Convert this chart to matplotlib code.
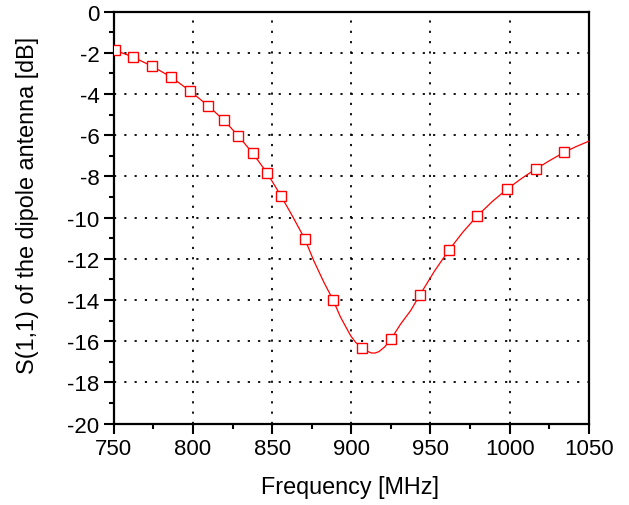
import numpy as np
import matplotlib
matplotlib.use('Agg')
import matplotlib.pyplot as plt
from matplotlib.ticker import MultipleLocator

plt.rcParams['font.family'] = ['Liberation Sans', 'DejaVu Sans']
plt.rcParams['axes.unicode_minus'] = False

# ---------------------- data

# measured points (square markers)
freq_pts = [750.6, 762.0, 774.2, 786.3, 798.3, 809.7, 819.4, 828.5, 837.7, 846.8,
            855.7, 870.6, 888.4, 907.0, 925.0, 943.4, 961.6, 979.5, 998.3, 1016.5,
            1034.4]
s11_pts = [-1.87, -2.20, -2.65, -3.18, -3.86, -4.58, -5.26, -6.02, -6.87, -7.83,
           -8.96, -11.03, -13.98, -16.31, -15.90, -13.74, -11.58, -9.92, -8.62, -7.64,
           -6.83]

# smooth curve traced through the picture
freq_curve = [750.0, 750.6, 762.0, 774.2, 786.3, 798.3, 809.7, 819.4, 828.5, 837.7,
              846.8, 855.7, 863.0, 870.6, 876.3, 882.7, 888.4, 893.2, 899.6, 902.7,
              907.0, 910.0, 912.7, 915.0, 917.5, 921.0, 925.0, 931.2, 937.5, 943.4,
              952.5, 961.6, 970.5, 979.5, 989.0, 998.3, 1007.5, 1016.5, 1025.5, 1034.4,
              1042.0, 1050.0]
s11_curve = [-1.85, -1.87, -2.20, -2.65, -3.18, -3.86, -4.58, -5.26, -6.02, -6.87,
             -7.83, -8.96, -9.95, -11.03, -12.09, -13.14, -13.98, -14.83, -15.73, -16.05,
             -16.31, -16.48, -16.57, -16.57, -16.50, -16.28, -15.90, -15.16, -14.51, -13.74,
             -12.60, -11.58, -10.70, -9.92, -9.22, -8.62, -8.10, -7.64, -7.22, -6.83,
             -6.55, -6.29]

# ---------------------- plot

fig = plt.figure(figsize=(6.29, 5.06), dpi=100)
ax = fig.add_axes([0.181, 0.1607, 0.755, 0.8143])

ax.plot(freq_curve, s11_curve, color='red', linewidth=0.9, zorder=3)
ax.plot(freq_pts, s11_pts, linestyle='none', marker='s', markersize=7,
        markerfacecolor='white', markeredgecolor='red', markeredgewidth=1.0, zorder=4)

ax.set_xlim(750, 1050)
ax.set_ylim(-20, 0)
ax.xaxis.set_major_locator(MultipleLocator(50))
ax.xaxis.set_minor_locator(MultipleLocator(25))
ax.yaxis.set_major_locator(MultipleLocator(2))
ax.yaxis.set_minor_locator(MultipleLocator(1))

ax.grid(True, which='major', color='black', linestyle=(0, (1.2, 4.5)), linewidth=1.3)
ax.set_axisbelow(True)

for s in ax.spines.values():
    s.set_linewidth(1.6)
ax.tick_params(which='major', direction='out', length=7, width=1.5,
               labelsize=16, pad=3.5, top=False, right=False)
ax.tick_params(which='minor', direction='out', length=3.5, width=1.5,
               top=False, right=False)

ax.set_xlabel('Frequency [MHz]', fontsize=16.8)
ax.set_ylabel('S(1,1) of the dipole antenna [dB]', fontsize=16.8)
ax.xaxis.set_label_coords(0.497, -0.125)
ax.yaxis.set_label_coords(-0.158, 0.533)

plt.savefig('out.png', dpi=100)
